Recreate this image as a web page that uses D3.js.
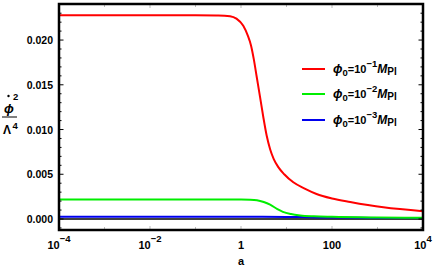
<!DOCTYPE html>
<html>
<head>
<meta charset="utf-8">
<script src="https://cdnjs.cloudflare.com/ajax/libs/d3/7.8.5/d3.min.js"></script>
<style>
  body { margin: 0; background: #fff; }
  text { font-family: "Liberation Sans", Arial, sans-serif; font-weight: bold; }
</style>
</head>
<body>
<script>
// log10(a) positions and phi-dot^2 / Lambda^4 values
const redLogA   = [-4, -1, -0.5, -0.24, -0.1, 0.05, 0.15, 0.22, 0.28, 0.345, 0.42, 0.49, 0.565, 0.64, 0.72, 0.82, 0.95, 1.15, 1.4, 1.66, 2.0, 2.4, 3.13, 4];
const redVals   = [0.02277, 0.02277, 0.02275, 0.02267, 0.0224, 0.0216, 0.0205, 0.0194, 0.0179, 0.0159, 0.0136, 0.0114, 0.0093, 0.0078, 0.0067, 0.0058, 0.0050, 0.0041, 0.0034, 0.0028, 0.0023, 0.0019, 0.0013, 0.00087];
const greenLogA = [-4, -1, 0, 0.2, 0.35, 0.5, 0.64, 0.8, 0.92, 1.1, 1.3, 1.6, 2, 3, 4];
const greenVals = [0.00218, 0.00218, 0.00218, 0.00216, 0.0021, 0.0019, 0.0016, 0.0011, 0.0008, 0.00055, 0.0004, 0.0003, 0.00024, 0.00017, 0.00014];
const blueLogA  = [-4, 0, 1, 1.5, 2, 3, 4];
const blueVals  = [0.00024, 0.00024, 0.00023, 0.0002, 0.00016, 0.00012, 0.0001];

const xTickExp  = [-4, -2, 0, 2, 4];
const xTickText = [["10", "\u22124"], ["10", "\u22122"], ["1", ""], ["100", ""], ["10", "4"]];
const yTicks    = [0, 0.005, 0.010, 0.015, 0.020];
const legendExp = ["\u22121", "\u22122", "\u22123"];
const colors    = ["#ff0000", "#00ee00", "#0000ee"];

const W = 436, H = 272;
const m = { left: 59, right: 13, top: 4, bottom: 42 };

const svg = d3.select("body").append("svg")
    .attr("width", W)
    .attr("height", H);

const x = d3.scaleLog().domain([1e-4, 1e4]).range([m.left, W - m.right]);
const y = d3.scaleLinear().domain([-0.00123, 0.02403]).range([H - m.bottom, m.top]);

const series = [
    { a: redLogA, v: redVals },
    { a: greenLogA, v: greenVals },
    { a: blueLogA, v: blueVals }
].map((s, i) => ({ pts: s.a.map((e, j) => [Math.pow(10, e), s.v[j]]), c: colors[i] }));

// zero line
svg.append("line")
    .attr("x1", m.left).attr("x2", W - m.right)
    .attr("y1", y(0)).attr("y2", y(0))
    .attr("stroke", "#000").attr("stroke-width", 1.3);

const line = d3.line()
    .x(d => x(d[0]))
    .y(d => y(d[1]))
    .curve(d3.curveMonotoneX);

svg.selectAll("path.curve")
    .data(series.slice().reverse())
    .enter()
    .append("path")
    .attr("class", "curve")
    .attr("d", d => line(d.pts))
    .attr("fill", "none")
    .attr("stroke", d => d.c)
    .attr("stroke-width", 2);

// x ticks (light gray, every decade) bottom and top
const decades = d3.range(-4, 5);
const xt = svg.append("g");
decades.forEach(e => {
    const big = e % 2 === 0;
    xt.append("line")
        .attr("x1", x(Math.pow(10, e))).attr("x2", x(Math.pow(10, e)))
        .attr("y1", H - m.bottom).attr("y2", H - m.bottom - (big ? 4 : 3))
        .attr("stroke", "#aaa").attr("stroke-width", 0.8);
    xt.append("line")
        .attr("x1", x(Math.pow(10, e))).attr("x2", x(Math.pow(10, e)))
        .attr("y1", m.top).attr("y2", m.top + (big ? 4 : 3))
        .attr("stroke", "#aaa").attr("stroke-width", 0.8);
});

// y ticks (major + minor) left and right
const yt = svg.append("g");
d3.range(-1, 24).forEach(k => {
    const v = k * 0.001;
    const big = k % 5 === 0;
    const len = big ? 4.5 : 2.5;
    yt.append("line")
        .attr("x1", m.left).attr("x2", m.left + len)
        .attr("y1", y(v)).attr("y2", y(v))
        .attr("stroke", "#000").attr("stroke-width", 1);
    yt.append("line")
        .attr("x1", W - m.right).attr("x2", W - m.right - len)
        .attr("y1", y(v)).attr("y2", y(v))
        .attr("stroke", "#000").attr("stroke-width", 1);
});

// frame
svg.append("rect")
    .attr("x", m.left).attr("y", m.top)
    .attr("width", W - m.left - m.right)
    .attr("height", H - m.top - m.bottom)
    .attr("fill", "none")
    .attr("stroke", "#000")
    .attr("stroke-width", 2.5);

// y tick labels
svg.selectAll("text.ylab")
    .data(yTicks)
    .enter()
    .append("text")
    .attr("class", "ylab")
    .attr("x", m.left - 6)
    .attr("y", d => y(d) + 4)
    .attr("text-anchor", "end")
    .attr("font-size", 10.5)
    .text(d => d3.format(".3f")(d));

// x tick labels
xTickExp.forEach((e, i) => {
    const t = svg.append("text")
        .attr("x", x(Math.pow(10, e)))
        .attr("y", 249)
        .attr("text-anchor", "middle")
        .attr("font-size", 11);
    t.append("tspan").text(xTickText[i][0]);
    if (xTickText[i][1]) {
        t.append("tspan").attr("dy", -7).attr("font-size", 9.5).text(xTickText[i][1]);
    }
});

// x axis title
svg.append("text")
    .attr("x", x(1)).attr("y", 265)
    .attr("text-anchor", "middle")
    .attr("font-size", 11)
    .text("a");

// y axis title: phi-dot^2 / Lambda^4
const yl = svg.append("g");
yl.append("text").attr("x", 9).attr("y", 113).attr("text-anchor", "middle")
    .attr("font-size", 13).attr("font-style", "italic").text("\u03d5");
yl.append("circle").attr("cx", 8.5).attr("cy", 96).attr("r", 1.2).attr("fill", "#000");
yl.append("text").attr("x", 13).attr("y", 100).attr("font-size", 9.5).text("2");
yl.append("line").attr("x1", 2).attr("x2", 17).attr("y1", 117).attr("y2", 117)
    .attr("stroke", "#000").attr("stroke-width", 1);
yl.append("text").attr("x", 7).attr("y", 134).attr("text-anchor", "middle")
    .attr("font-size", 12).text("\u039b");
yl.append("text").attr("x", 12.5).attr("y", 129).attr("font-size", 9.5).text("4");

// legend
const lg = svg.append("g");
const legendY = [69, 94, 120];
legendExp.forEach((ex, i) => {
    lg.append("line")
        .attr("x1", 302).attr("x2", 325)
        .attr("y1", legendY[i]).attr("y2", legendY[i])
        .attr("stroke", colors[i]).attr("stroke-width", 2);
    const t = lg.append("text")
        .attr("x", 333).attr("y", legendY[i] + 4)
        .attr("font-size", 11);
    t.append("tspan").attr("font-style", "italic").attr("font-size", 12.5).text("\u03d5");
    t.append("tspan").attr("dy", 3).attr("font-size", 9.5).text("0");
    t.append("tspan").attr("dy", -3).text("=10");
    t.append("tspan").attr("dy", -6).attr("font-size", 9.5).text(ex);
    t.append("tspan").attr("dy", 6).attr("font-style", "italic").attr("font-size", 12).text("M");
    t.append("tspan").attr("dy", 2).attr("font-size", 10).text("Pl");
});
</script>
</body>
</html>
